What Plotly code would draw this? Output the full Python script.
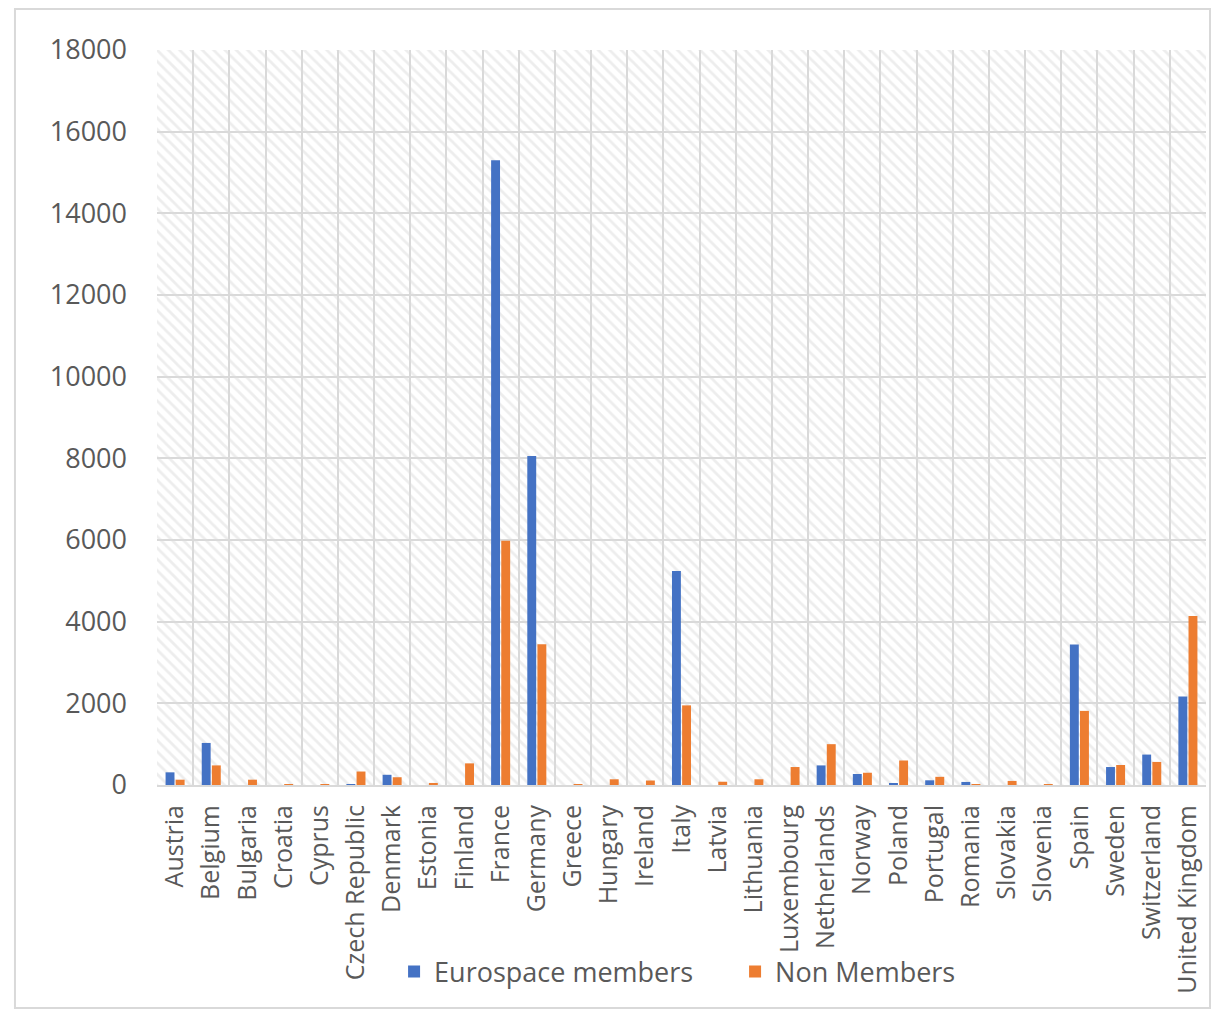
import plotly.graph_objects as go

countries = ["Austria", "Belgium", "Bulgaria", "Croatia", "Cyprus", "Czech Republic", "Denmark",
             "Estonia", "Finland", "France", "Germany", "Greece", "Hungary", "Ireland", "Italy",
             "Latvia", "Lithuania", "Luxembourg", "Netherlands", "Norway", "Poland", "Portugal",
             "Romania", "Slovakia", "Slovenia", "Spain", "Sweden", "Switzerland", "United Kingdom"]
members = [310, 1030, 0, 0, 0, 20, 250, 0, 0, 15300, 8060, 0, 0, 0, 5240,
           0, 0, 0, 480, 270, 30, 115, 75, 0, 0, 3440, 440, 745, 2165]
non_members = [130, 480, 130, 10, 15, 330, 190, 50, 530, 5980, 3450, 15, 140, 110, 1950,
               80, 140, 440, 1000, 300, 600, 200, 15, 100, 5, 1815, 490, 565, 4140]
y_max = 18000
y_ticks = [0, 2000, 4000, 6000, 8000, 10000, 12000, 14000, 16000, 18000]

FONT = "Open Sans"
GRAY = "#595959"

fig = go.Figure()
# hatched plot background (decorative), drawn on a hidden base axis below the data
fig.add_trace(go.Bar(x=[0], y=[y_max], xaxis="x2", yaxis="y", width=1,
                     marker=dict(color="rgba(0,0,0,0)", line=dict(width=0),
                                 pattern=dict(shape="\\", fgcolor="#dcdcdc",
                                              bgcolor="rgba(0,0,0,0)",
                                              size=8, solidity=0.35)),
                     showlegend=False, hoverinfo="skip"))
fig.add_trace(go.Bar(x=countries, y=members, name="Eurospace members",
                     marker=dict(color="#4472C4", line=dict(width=0))))
fig.add_trace(go.Bar(x=countries, y=non_members, name="Non Members",
                     marker=dict(color="#ED7D31", line=dict(width=0))))

fig.update_layout(
    width=1223, height=1010,
    margin=dict(l=149, r=25, t=42, b=233),
    paper_bgcolor="white", plot_bgcolor="white",
    barmode="group", bargap=0.44, bargroupgap=0.12,
    font=dict(family=FONT, color=GRAY),
    xaxis=dict(type="category", overlaying="x2", tickson="boundaries", showgrid=True,
               gridcolor="#d9d9d9", gridwidth=2, tickangle=-90,
               tickfont=dict(size=25, color=GRAY),
               showline=True, linecolor="#d9d9d9", linewidth=2, ticks="",
               ticklabelstandoff=8),
    xaxis2=dict(range=[-0.5, 0.5], visible=False, fixedrange=True, anchor="y",
                domain=[0, 1]),
    yaxis=dict(range=[0, y_max], tickvals=y_ticks, ticktext=[str(v) for v in y_ticks],
               showgrid=True, gridcolor="#d9d9d9",
               gridwidth=2, zeroline=False, tickfont=dict(size=27, color=GRAY),
               ticklabelstandoff=29, showline=False),
    legend=dict(orientation="h", x=0.226, xanchor="left", y=-0.2544, yanchor="middle",
                font=dict(size=27, color=GRAY), entrywidth=296, traceorder="normal",
                bgcolor="rgba(0,0,0,0)"),
    shapes=[dict(type="rect", xref="paper", yref="paper", x0=-0.1354, x1=1.0038,
                 y0=-0.3034, y1=1.0558, line=dict(color="#d9d9d9", width=2))],
)
fig.write_html("out.html")
